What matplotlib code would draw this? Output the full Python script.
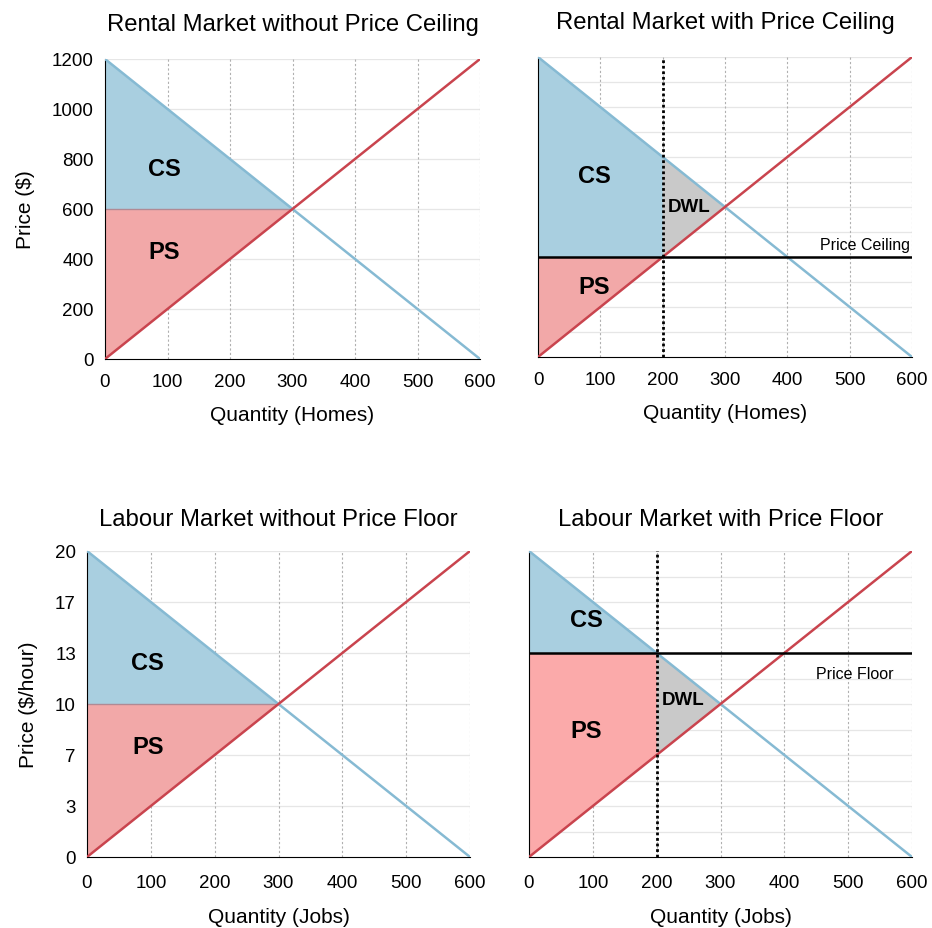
import matplotlib
matplotlib.use("Agg")
import matplotlib.pyplot as plt
import numpy as np

plt.rcParams['font.family'] = ['Liberation Sans', 'DejaVu Sans']

# ---- data ----
qty_ticks = [0, 100, 200, 300, 400, 500, 600]
q_max = 600

rent_price_max = 1200
rent_ticks = [0, 200, 400, 600, 800, 1000, 1200]
rent_tick_labels = ["0", "200", "400", "600", "800", "1000", "1200"]
rent_equil_q = 300
rent_equil_p = 600
rent_ceiling = 400
rent_ceiling_q = 200

lab_price_max = 20
lab_ticks = [0, 20/6, 40/6, 10, 80/6, 100/6, 20]
lab_tick_labels = ["0", "3", "7", "10", "13", "17", "20"]
lab_equil_q = 300
lab_equil_p = 10
lab_floor = 40/3
lab_floor_q = 200

titles = ["Rental Market without Price Ceiling", "Rental Market with Price Ceiling",
          "Labour Market without Price Floor", "Labour Market with Price Floor"]
xlabels = ["Quantity (Homes)", "Quantity (Homes)", "Quantity (Jobs)", "Quantity (Jobs)"]
ylabels = ["Price ($)", None, "Price ($/hour)", None]

BLUE_LINE = "#86bad3"
BLUE_FILL = "#a9cfe0"
RED_LINE = "#c9444e"
RED_FILL = "#f2a8a8"
RED_FILL2 = "#fbaaaa"
GREY_FILL = "#c9c9c9"

fig = plt.figure(figsize=(9.32, 9.29), dpi=100)
rects = [
    [105/932, 1-360/929, 375/932, 300/929],
    [538/932, 1-358/929, 374/932, 300/929],
    [87/932, 1-858/929, 383/932, 306/929],
    [529/932, 1-858/929, 383/932, 306/929],
]
axes = [fig.add_axes(r) for r in rects]

def demand(q, pmax):
    return pmax - pmax / q_max * np.asarray(q)

def supply(q, pmax):
    return pmax / q_max * np.asarray(q)

def base(ax, pmax, yticks, ylabels_, show_ylabels, idx, xpad, xlpad):
    ax.set_xlim(0, q_max)
    ax.set_ylim(0, pmax)
    for s in ["top", "right"]:
        ax.spines[s].set_visible(False)
    ax.spines["left"].set_color("black")
    ax.spines["bottom"].set_color("black")
    ax.set_xticks(qty_ticks)
    ax.set_xticklabels([str(t) for t in qty_ticks], fontsize=13.5)
    ax.tick_params(axis="x", length=0, pad=xpad)
    ax.tick_params(axis="y", length=0, pad=8)
    if show_ylabels:
        ax.set_yticks(yticks)
        ax.set_yticklabels(ylabels_, fontsize=13.5)
        hl = yticks
    else:
        ax.set_yticks([])
        hl = np.linspace(0, pmax, 13)
    for y in hl:
        if 0 < y:
            ax.axhline(y, color="#e6e6e6", lw=0.9, zorder=0)
    for x in qty_ticks[1:]:
        ax.axvline(x, color="#b0b0b0", lw=0.8, ls=(0, (2, 2)), zorder=0)
    ax.set_title(titles[idx], fontsize=17.2, pad=21 if idx < 2 else 19)
    ax.set_xlabel(xlabels[idx], fontsize=15, labelpad=xlpad)
    if ylabels[idx]:
        ax.set_ylabel(ylabels[idx], fontsize=15, labelpad=12)

def lines(ax, pmax):
    q = np.array([0, q_max])
    ax.plot(q, demand(q, pmax), color=BLUE_LINE, lw=1.8, zorder=3)
    ax.plot(q, supply(q, pmax), color=RED_LINE, lw=1.8, zorder=3)

def lbl(ax, x, y, s, size=17):
    ax.text(x, y, s, fontsize=size, fontweight="bold", ha="center", va="center", zorder=5)

# Panel 1
ax = axes[0]
base(ax, rent_price_max, rent_ticks, rent_tick_labels, True, 0, 10, 11)
ax.fill([0, 0, rent_equil_q], [rent_price_max, rent_equil_p, rent_equil_p], color=BLUE_FILL, lw=0, zorder=1)
ax.fill([0, 0, rent_equil_q], [0, rent_equil_p, rent_equil_p], color=RED_FILL, lw=0, zorder=1)
ax.plot([0, rent_equil_q], [rent_equil_p, rent_equil_p], color="#b08a95", lw=1, zorder=2)
lines(ax, rent_price_max)
lbl(ax, 95, 760, "CS")
lbl(ax, 95, 430, "PS")

# Panel 2
ax = axes[1]
base(ax, rent_price_max, rent_ticks, rent_tick_labels, False, 1, 10, 11)
dq = demand(rent_ceiling_q, rent_price_max)
ax.fill([0, 0, rent_ceiling_q, rent_ceiling_q], [rent_price_max, rent_ceiling, rent_ceiling, dq],
        color=BLUE_FILL, lw=0, zorder=1)
ax.fill([0, 0, rent_ceiling_q], [0, rent_ceiling, rent_ceiling], color=RED_FILL, lw=0, zorder=1)
ax.fill([rent_ceiling_q, rent_ceiling_q, rent_equil_q], [rent_ceiling, dq, rent_equil_p],
        color=GREY_FILL, lw=0, zorder=1)
lines(ax, rent_price_max)
ax.axhline(rent_ceiling, color="black", lw=1.8, zorder=4)
ax.axvline(rent_ceiling_q, color="black", lw=2, ls=(0, (1, 1)), zorder=4)
lbl(ax, 90, 725, "CS")
lbl(ax, 90, 280, "PS")
lbl(ax, 242, 600, "DWL", 13.5)
ax.text(597, 450, "Price Ceiling", fontsize=11.5, ha="right", va="center", zorder=5)

# Panel 3
ax = axes[2]
base(ax, lab_price_max, lab_ticks, lab_tick_labels, True, 2, 12, 12)
ax.fill([0, 0, lab_equil_q], [lab_price_max, lab_equil_p, lab_equil_p], color=BLUE_FILL, lw=0, zorder=1)
ax.fill([0, 0, lab_equil_q], [0, lab_equil_p, lab_equil_p], color=RED_FILL, lw=0, zorder=1)
ax.plot([0, lab_equil_q], [lab_equil_p, lab_equil_p], color="#b08a95", lw=1, zorder=2)
lines(ax, lab_price_max)
lbl(ax, 95, 12.7, "CS")
lbl(ax, 95, 7.2, "PS")

# Panel 4
ax = axes[3]
base(ax, lab_price_max, lab_ticks, lab_tick_labels, False, 3, 12, 12)
sq = supply(lab_floor_q, lab_price_max)
ax.fill([0, 0, lab_floor_q], [lab_price_max, lab_floor, lab_floor], color=BLUE_FILL, lw=0, zorder=1)
ax.fill([0, 0, lab_floor_q, lab_floor_q], [0, lab_floor, lab_floor, sq], color=RED_FILL2, lw=0, zorder=1)
ax.fill([lab_floor_q, lab_floor_q, lab_equil_q], [sq, lab_floor, lab_equil_p],
        color=GREY_FILL, lw=0, zorder=1)
lines(ax, lab_price_max)
ax.axhline(lab_floor, color="black", lw=1.8, zorder=4)
ax.axvline(lab_floor_q, color="black", lw=2, ls=(0, (1, 1)), zorder=4)
lbl(ax, 90, 15.5, "CS")
lbl(ax, 90, 8.3, "PS")
lbl(ax, 242, 10.3, "DWL", 13.5)
ax.text(510, 12.0, "Price Floor", fontsize=11.5, ha="center", va="center", zorder=5)

fig.savefig("out.png", dpi=100, facecolor="white")
